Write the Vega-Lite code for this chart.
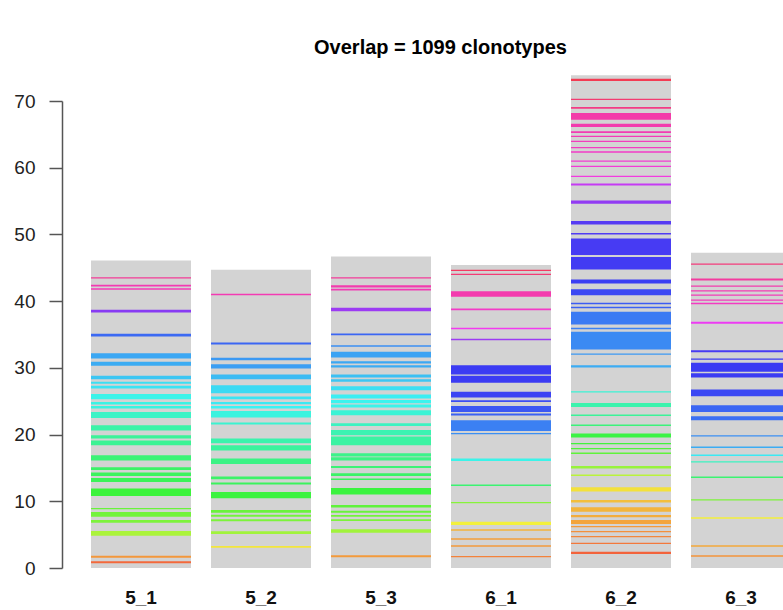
{
  "$schema": "https://vega.github.io/schema/vega-lite/v6.json",
  "autosize": {"type": "none"},
  "width": 721,
  "height": 467,
  "padding": {"left": 62, "top": 101, "right": 0, "bottom": 42},
  "background": "white",
  "config": {"view": {"stroke": null}, "font": "Liberation Sans"},
  "title": {"text": "Overlap = 1099 clonotypes", "fontSize": 20, "fontWeight": "bold", "color": "#000", "font": "Liberation Sans", "offset": 17, "dx": 18, "anchor": "middle"},
  "datasets": {
    "totals": [
      {"sample": "5_1", "total": 46.1},
      {"sample": "5_2", "total": 44.7},
      {"sample": "5_3", "total": 46.7},
      {"sample": "6_1", "total": 45.4},
      {"sample": "6_2", "total": 73.85},
      {"sample": "6_3", "total": 47.25}
    ],
    "bands": [
      {"sample": "5_1", "y0": 43.4, "y1": 43.6, "clone": 1007},
      {"sample": "5_1", "y0": 42.2, "y1": 42.45, "clone": 980},
      {"sample": "5_1", "y0": 41.7, "y1": 41.95, "clone": 975},
      {"sample": "5_1", "y0": 38.3, "y1": 38.7, "clone": 810},
      {"sample": "5_1", "y0": 34.7, "y1": 35.1, "clone": 687},
      {"sample": "5_1", "y0": 31.4, "y1": 32.2, "clone": 626},
      {"sample": "5_1", "y0": 30.3, "y1": 30.9, "clone": 620},
      {"sample": "5_1", "y0": 28.3, "y1": 28.8, "clone": 595},
      {"sample": "5_1", "y0": 27.6, "y1": 27.9, "clone": 570},
      {"sample": "5_1", "y0": 26.9, "y1": 27.3, "clone": 565},
      {"sample": "5_1", "y0": 25.3, "y1": 26.1, "clone": 540},
      {"sample": "5_1", "y0": 24.5, "y1": 24.9, "clone": 535},
      {"sample": "5_1", "y0": 23.9, "y1": 24.3, "clone": 530},
      {"sample": "5_1", "y0": 22.5, "y1": 23.4, "clone": 505},
      {"sample": "5_1", "y0": 20.6, "y1": 21.4, "clone": 475},
      {"sample": "5_1", "y0": 19.4, "y1": 19.9, "clone": 460},
      {"sample": "5_1", "y0": 18.4, "y1": 19.1, "clone": 455},
      {"sample": "5_1", "y0": 16.1, "y1": 16.9, "clone": 425},
      {"sample": "5_1", "y0": 14.7, "y1": 15.1, "clone": 410},
      {"sample": "5_1", "y0": 13.8, "y1": 14.3, "clone": 400},
      {"sample": "5_1", "y0": 12.9, "y1": 13.5, "clone": 395},
      {"sample": "5_1", "y0": 10.8, "y1": 11.9, "clone": 366},
      {"sample": "5_1", "y0": 8.8, "y1": 9.0, "clone": 320},
      {"sample": "5_1", "y0": 7.7, "y1": 8.4, "clone": 310},
      {"sample": "5_1", "y0": 6.8, "y1": 7.2, "clone": 300},
      {"sample": "5_1", "y0": 4.85, "y1": 5.55, "clone": 255},
      {"sample": "5_1", "y0": 1.55, "y1": 1.85, "clone": 92},
      {"sample": "5_1", "y0": 0.7, "y1": 1.0, "clone": 46},

      {"sample": "5_2", "y0": 40.9, "y1": 41.1, "clone": 980},
      {"sample": "5_2", "y0": 33.5, "y1": 33.8, "clone": 690},
      {"sample": "5_2", "y0": 31.15, "y1": 31.5, "clone": 640},
      {"sample": "5_2", "y0": 29.9, "y1": 30.55, "clone": 635},
      {"sample": "5_2", "y0": 28.3, "y1": 29.0, "clone": 605},
      {"sample": "5_2", "y0": 26.2, "y1": 27.4, "clone": 575},
      {"sample": "5_2", "y0": 25.3, "y1": 25.7, "clone": 565},
      {"sample": "5_2", "y0": 24.55, "y1": 24.9, "clone": 560},
      {"sample": "5_2", "y0": 23.9, "y1": 24.3, "clone": 550},
      {"sample": "5_2", "y0": 22.55, "y1": 23.55, "clone": 530},
      {"sample": "5_2", "y0": 21.5, "y1": 21.8, "clone": 515},
      {"sample": "5_2", "y0": 18.7, "y1": 19.4, "clone": 480},
      {"sample": "5_2", "y0": 17.6, "y1": 18.4, "clone": 465},
      {"sample": "5_2", "y0": 15.6, "y1": 16.4, "clone": 440},
      {"sample": "5_2", "y0": 13.3, "y1": 13.7, "clone": 410},
      {"sample": "5_2", "y0": 12.5, "y1": 12.8, "clone": 400},
      {"sample": "5_2", "y0": 10.45, "y1": 11.4, "clone": 370},
      {"sample": "5_2", "y0": 8.3, "y1": 8.7, "clone": 320},
      {"sample": "5_2", "y0": 7.7, "y1": 8.0, "clone": 310},
      {"sample": "5_2", "y0": 7.0, "y1": 7.3, "clone": 300},
      {"sample": "5_2", "y0": 5.1, "y1": 5.5, "clone": 265},
      {"sample": "5_2", "y0": 3.05, "y1": 3.3, "clone": 170},

      {"sample": "5_3", "y0": 43.4, "y1": 43.6, "clone": 1005},
      {"sample": "5_3", "y0": 42.05, "y1": 42.4, "clone": 985},
      {"sample": "5_3", "y0": 41.6, "y1": 41.85, "clone": 978},
      {"sample": "5_3", "y0": 38.5, "y1": 39.0, "clone": 830},
      {"sample": "5_3", "y0": 34.9, "y1": 35.15, "clone": 690},
      {"sample": "5_3", "y0": 33.15, "y1": 33.4, "clone": 650},
      {"sample": "5_3", "y0": 31.55, "y1": 32.4, "clone": 630},
      {"sample": "5_3", "y0": 30.65, "y1": 31.0, "clone": 625},
      {"sample": "5_3", "y0": 30.05, "y1": 30.4, "clone": 620},
      {"sample": "5_3", "y0": 28.55, "y1": 29.0, "clone": 600},
      {"sample": "5_3", "y0": 27.9, "y1": 28.3, "clone": 595},
      {"sample": "5_3", "y0": 26.65, "y1": 27.25, "clone": 570},
      {"sample": "5_3", "y0": 25.4, "y1": 26.0, "clone": 555},
      {"sample": "5_3", "y0": 24.7, "y1": 25.2, "clone": 545},
      {"sample": "5_3", "y0": 24.05, "y1": 24.5, "clone": 540},
      {"sample": "5_3", "y0": 22.9, "y1": 23.65, "clone": 520},
      {"sample": "5_3", "y0": 21.3, "y1": 21.7, "clone": 500},
      {"sample": "5_3", "y0": 19.9, "y1": 20.7, "clone": 485},
      {"sample": "5_3", "y0": 18.4, "y1": 19.7, "clone": 470},
      {"sample": "5_3", "y0": 16.7, "y1": 17.2, "clone": 445},
      {"sample": "5_3", "y0": 16.1, "y1": 16.6, "clone": 440},
      {"sample": "5_3", "y0": 15.0, "y1": 15.3, "clone": 425},
      {"sample": "5_3", "y0": 13.8, "y1": 14.2, "clone": 410},
      {"sample": "5_3", "y0": 13.2, "y1": 13.4, "clone": 400},
      {"sample": "5_3", "y0": 11.0, "y1": 12.0, "clone": 370},
      {"sample": "5_3", "y0": 9.05, "y1": 9.45, "clone": 330},
      {"sample": "5_3", "y0": 8.3, "y1": 8.6, "clone": 320},
      {"sample": "5_3", "y0": 7.7, "y1": 7.95, "clone": 310},
      {"sample": "5_3", "y0": 7.05, "y1": 7.3, "clone": 300},
      {"sample": "5_3", "y0": 5.3, "y1": 5.8, "clone": 265},
      {"sample": "5_3", "y0": 1.6, "y1": 1.9, "clone": 95},

      {"sample": "6_1", "y0": 44.5, "y1": 44.7, "clone": 1060},
      {"sample": "6_1", "y0": 43.9, "y1": 44.1, "clone": 1040},
      {"sample": "6_1", "y0": 40.65, "y1": 41.5, "clone": 985},
      {"sample": "6_1", "y0": 38.65, "y1": 38.9, "clone": 960},
      {"sample": "6_1", "y0": 35.8, "y1": 36.0, "clone": 920},
      {"sample": "6_1", "y0": 34.15, "y1": 34.35, "clone": 830},
      {"sample": "6_1", "y0": 29.0, "y1": 30.4, "clone": 733},
      {"sample": "6_1", "y0": 27.75, "y1": 28.8, "clone": 733},
      {"sample": "6_1", "y0": 25.55, "y1": 26.4, "clone": 725},
      {"sample": "6_1", "y0": 24.9, "y1": 25.15, "clone": 715},
      {"sample": "6_1", "y0": 23.4, "y1": 24.3, "clone": 705},
      {"sample": "6_1", "y0": 22.85, "y1": 23.15, "clone": 695},
      {"sample": "6_1", "y0": 20.55, "y1": 22.15, "clone": 665},
      {"sample": "6_1", "y0": 20.05, "y1": 20.25, "clone": 650},
      {"sample": "6_1", "y0": 16.05, "y1": 16.4, "clone": 540},
      {"sample": "6_1", "y0": 12.3, "y1": 12.5, "clone": 420},
      {"sample": "6_1", "y0": 9.7, "y1": 9.9, "clone": 290},
      {"sample": "6_1", "y0": 6.45, "y1": 6.95, "clone": 180},
      {"sample": "6_1", "y0": 5.6, "y1": 5.8, "clone": 120},
      {"sample": "6_1", "y0": 4.25, "y1": 4.45, "clone": 100},
      {"sample": "6_1", "y0": 3.2, "y1": 3.4, "clone": 95},
      {"sample": "6_1", "y0": 1.6, "y1": 1.8, "clone": 70},

      {"sample": "6_2", "y0": 73.0, "y1": 73.35, "clone": 1075},
      {"sample": "6_2", "y0": 70.15, "y1": 70.35, "clone": 1045},
      {"sample": "6_2", "y0": 68.85, "y1": 69.1, "clone": 1025},
      {"sample": "6_2", "y0": 67.2, "y1": 68.2, "clone": 990},
      {"sample": "6_2", "y0": 66.1, "y1": 66.6, "clone": 985},
      {"sample": "6_2", "y0": 65.2, "y1": 65.45, "clone": 980},
      {"sample": "6_2", "y0": 64.6, "y1": 64.8, "clone": 975},
      {"sample": "6_2", "y0": 63.85, "y1": 64.05, "clone": 970},
      {"sample": "6_2", "y0": 62.9, "y1": 63.1, "clone": 965},
      {"sample": "6_2", "y0": 62.25, "y1": 62.45, "clone": 960},
      {"sample": "6_2", "y0": 60.9, "y1": 61.1, "clone": 950},
      {"sample": "6_2", "y0": 60.1, "y1": 60.3, "clone": 945},
      {"sample": "6_2", "y0": 58.6, "y1": 58.8, "clone": 935},
      {"sample": "6_2", "y0": 57.35, "y1": 57.65, "clone": 870},
      {"sample": "6_2", "y0": 54.6, "y1": 55.1, "clone": 820},
      {"sample": "6_2", "y0": 51.5, "y1": 52.0, "clone": 760},
      {"sample": "6_2", "y0": 50.0, "y1": 50.2, "clone": 755},
      {"sample": "6_2", "y0": 46.9, "y1": 49.4, "clone": 745},
      {"sample": "6_2", "y0": 44.75, "y1": 46.6, "clone": 740},
      {"sample": "6_2", "y0": 42.65, "y1": 43.25, "clone": 730},
      {"sample": "6_2", "y0": 40.9, "y1": 41.8, "clone": 720},
      {"sample": "6_2", "y0": 39.55, "y1": 39.75, "clone": 700},
      {"sample": "6_2", "y0": 38.95, "y1": 39.15, "clone": 695},
      {"sample": "6_2", "y0": 36.5, "y1": 38.4, "clone": 670},
      {"sample": "6_2", "y0": 35.8, "y1": 36.0, "clone": 665},
      {"sample": "6_2", "y0": 32.75, "y1": 35.4, "clone": 655},
      {"sample": "6_2", "y0": 31.95, "y1": 32.15, "clone": 640},
      {"sample": "6_2", "y0": 30.05, "y1": 30.4, "clone": 620},
      {"sample": "6_2", "y0": 26.3, "y1": 26.5, "clone": 520},
      {"sample": "6_2", "y0": 24.15, "y1": 24.75, "clone": 480},
      {"sample": "6_2", "y0": 22.8, "y1": 23.0, "clone": 460},
      {"sample": "6_2", "y0": 21.3, "y1": 21.5, "clone": 430},
      {"sample": "6_2", "y0": 19.55, "y1": 20.15, "clone": 375},
      {"sample": "6_2", "y0": 18.55, "y1": 18.75, "clone": 360},
      {"sample": "6_2", "y0": 17.8, "y1": 18.0, "clone": 345},
      {"sample": "6_2", "y0": 17.1, "y1": 17.3, "clone": 330},
      {"sample": "6_2", "y0": 14.9, "y1": 15.3, "clone": 275},
      {"sample": "6_2", "y0": 13.8, "y1": 14.0, "clone": 240},
      {"sample": "6_2", "y0": 11.45, "y1": 12.1, "clone": 165},
      {"sample": "6_2", "y0": 9.8, "y1": 10.2, "clone": 130},
      {"sample": "6_2", "y0": 8.45, "y1": 9.1, "clone": 120},
      {"sample": "6_2", "y0": 7.6, "y1": 7.95, "clone": 112},
      {"sample": "6_2", "y0": 6.6, "y1": 7.2, "clone": 105},
      {"sample": "6_2", "y0": 6.1, "y1": 6.3, "clone": 95},
      {"sample": "6_2", "y0": 5.35, "y1": 5.55, "clone": 85},
      {"sample": "6_2", "y0": 4.6, "y1": 4.8, "clone": 75},
      {"sample": "6_2", "y0": 3.6, "y1": 3.8, "clone": 60},
      {"sample": "6_2", "y0": 2.1, "y1": 2.45, "clone": 40},

      {"sample": "6_3", "y0": 45.45, "y1": 45.65, "clone": 1035},
      {"sample": "6_3", "y0": 43.1, "y1": 43.4, "clone": 1000},
      {"sample": "6_3", "y0": 42.15, "y1": 42.35, "clone": 985},
      {"sample": "6_3", "y0": 41.45, "y1": 41.65, "clone": 980},
      {"sample": "6_3", "y0": 40.8, "y1": 41.0, "clone": 975},
      {"sample": "6_3", "y0": 40.05, "y1": 40.25, "clone": 970},
      {"sample": "6_3", "y0": 39.55, "y1": 39.75, "clone": 965},
      {"sample": "6_3", "y0": 36.6, "y1": 36.9, "clone": 910},
      {"sample": "6_3", "y0": 32.35, "y1": 32.65, "clone": 745},
      {"sample": "6_3", "y0": 31.2, "y1": 31.4, "clone": 735},
      {"sample": "6_3", "y0": 29.4, "y1": 30.75, "clone": 733},
      {"sample": "6_3", "y0": 28.55, "y1": 29.2, "clone": 733},
      {"sample": "6_3", "y0": 25.75, "y1": 26.75, "clone": 720},
      {"sample": "6_3", "y0": 23.4, "y1": 24.4, "clone": 690},
      {"sample": "6_3", "y0": 22.15, "y1": 22.75, "clone": 680},
      {"sample": "6_3", "y0": 19.7, "y1": 19.9, "clone": 650},
      {"sample": "6_3", "y0": 18.0, "y1": 18.2, "clone": 620},
      {"sample": "6_3", "y0": 16.8, "y1": 17.0, "clone": 560},
      {"sample": "6_3", "y0": 15.8, "y1": 16.0, "clone": 500},
      {"sample": "6_3", "y0": 13.5, "y1": 13.7, "clone": 420},
      {"sample": "6_3", "y0": 10.1, "y1": 10.3, "clone": 300},
      {"sample": "6_3", "y0": 7.4, "y1": 7.6, "clone": 180},
      {"sample": "6_3", "y0": 3.2, "y1": 3.4, "clone": 110},
      {"sample": "6_3", "y0": 1.7, "y1": 1.9, "clone": 90}
    ]
  },
  "encoding": {
    "x": {
      "field": "sample", "type": "nominal", "sort": ["5_1", "5_2", "5_3", "6_1", "6_2", "6_3"],
      "scale": {"domain": ["5_1", "5_2", "5_3", "6_1", "6_2", "6_3"], "range": [0, 758], "paddingInner": 0.1667, "paddingOuter": 0.2417},
      "axis": {"title": null, "domain": false, "ticks": false, "labelAngle": 0, "labelFontSize": 19, "labelFontWeight": "bold", "labelColor": "#111", "labelPadding": 20, "labelFont": "Liberation Sans"}
    }
  },
  "layer": [
    {
      "data": {"name": "totals"},
      "mark": {"type": "bar", "color": "#d3d3d3"},
      "encoding": {
        "y": {
          "field": "total", "type": "quantitative",
          "scale": {"domain": [0, 70], "nice": false, "zero": true},
          "axis": {"title": null, "values": [0, 10, 20, 30, 40, 50, 60, 70], "grid": false, "domain": true, "domainColor": "#555", "domainWidth": 1.5, "tickColor": "#555", "tickWidth": 1.5, "tickSize": 13, "labelFontSize": 19, "labelColor": "#222", "labelPadding": 14, "labelFont": "Liberation Sans"}
        }
      }
    },
    {
      "data": {"name": "bands"},
      "mark": {"type": "bar", "opacity": 0.72},
      "encoding": {
        "y": {"field": "y0", "type": "quantitative"},
        "y2": {"field": "y1"},
        "color": {
          "field": "clone", "type": "quantitative", "legend": null,
          "scale": {"domain": [0, 183, 366, 550, 733, 916, 1099], "range": ["#ff0000", "#ffff00", "#00ff00", "#00ffff", "#0000ff", "#ff00ff", "#ff0000"], "interpolate": "rgb"}
        }
      }
    }
  ]
}
